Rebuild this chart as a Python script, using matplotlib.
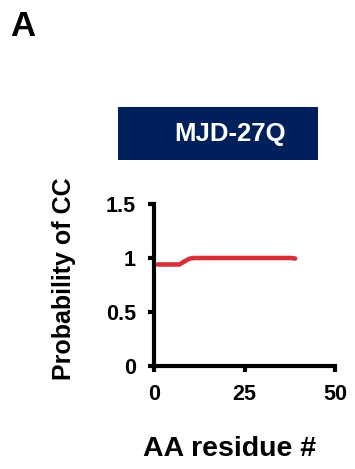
import matplotlib.pyplot as plt
from matplotlib.ticker import FuncFormatter

plt.rcParams['font.family'] = ['Liberation Sans', 'DejaVu Sans']
plt.rcParams['font.weight'] = 'bold'

# per-residue probability of coiled coil
residues = list(range(1, 40))
prob_cc = [0.94, 0.94, 0.94, 0.94, 0.94, 0.94, 0.94, 0.96, 0.98, 0.995,
           1.0, 1.0, 1.0, 1.0, 1.0, 1.0, 1.0, 1.0, 1.0, 1.0,
           1.0, 1.0, 1.0, 1.0, 1.0, 1.0, 1.0, 1.0, 1.0, 1.0,
           1.0, 1.0, 1.0, 1.0, 1.0, 1.0, 1.0, 1.0, 0.995]
xticks = [0, 25, 50]
yticks = [0, 0.5, 1, 1.5]
title = 'MJD-27Q'

fig = plt.figure(figsize=(3.55, 4.69), dpi=100)
ax = fig.add_axes([154 / 355, 1 - 366 / 469, 181 / 355, 162 / 469])

ax.plot(residues, prob_cc, color='#d7303a', lw=3.3, solid_capstyle='round')
ax.set_xlim(0, 50)
ax.set_ylim(0, 1.5)
ax.set_xticks(xticks)
ax.set_yticks(yticks)
ax.yaxis.set_major_formatter(FuncFormatter(lambda v, p: f'{v:g}'))
for s in ['top', 'right']:
    ax.spines[s].set_visible(False)
for s in ['left', 'bottom']:
    ax.spines[s].set_linewidth(3)
ax.tick_params(width=3, length=4, labelsize=15.5, pad=9)
ax.set_ylabel('Probability of CC', fontsize=18, fontweight='bold', va='center')
ax.yaxis.set_label_coords((64 - 154) / 181, (366 - 279) / 162)
ax.set_xlabel('AA residue #', fontsize=20.5, fontweight='bold', va='center')
ax.xaxis.set_label_coords((230 - 154) / 181, (366 - 449) / 162)

# title banner
tax = fig.add_axes([118 / 355, 1 - 160 / 469, 200 / 355, 53 / 469])
tax.set_facecolor('#00205b')
tax.set_xticks([])
tax.set_yticks([])
for s in tax.spines.values():
    s.set_visible(False)
tax.text(0.56, 0.5, title, color='white', fontsize=18.5, fontweight='bold',
         ha='center', va='center', transform=tax.transAxes)

fig.text(10 / 355, 1 - 26 / 469, 'A', fontsize=25, fontweight='bold',
         va='center', ha='left')

fig.savefig('out.png', dpi=100)
